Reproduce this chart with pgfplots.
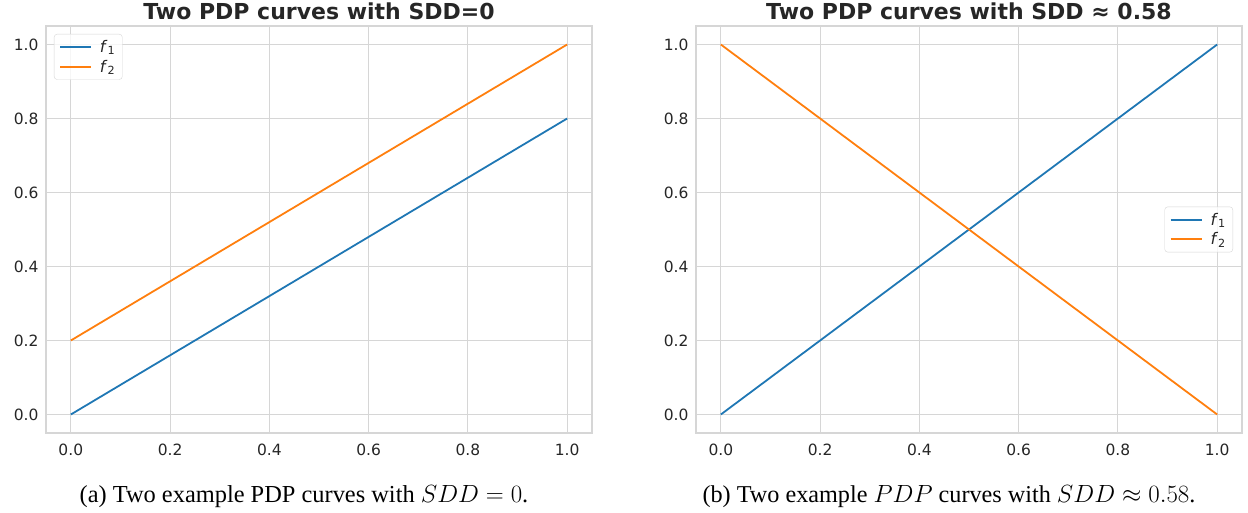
\documentclass[border=0pt]{standalone}
\usepackage[no-math]{fontspec}
\setmainfont{DejaVu Sans}
\newfontfamily\capfont{Liberation Serif}
\usepackage{pgfplots}
\pgfplotsset{compat=1.18}

\definecolor{tabblue}{HTML}{1F77B4}
\definecolor{taborange}{HTML}{FF7F0E}
\definecolor{gridgray}{HTML}{D6D6D6}
\definecolor{txt}{HTML}{262626}

\pgfplotsset{
  sbstyle/.style={
    scale only axis,
    width=546pt, height=407pt,
    xmin=-0.05, xmax=1.05, ymin=-0.05, ymax=1.05,
    xtick={0,0.2,0.4,0.6,0.8,1},
    ytick={0,0.2,0.4,0.6,0.8,1},
    /pgf/number format/fixed,
    /pgf/number format/fixed zerofill,
    /pgf/number format/precision=1,
    /pgf/number format/assume math mode=true,
    grid=major,
    major grid style={gridgray, line width=1pt},
    axis line style={gridgray, line width=1.25pt},
    major tick length=0pt,
    tick style={draw=none},
    tick label style={font=\fontsize{15.5}{18}\selectfont, text=txt},
    yticklabel style={xshift=-4pt},
    xticklabel style={yshift=-7pt},
    title style={font=\bfseries\fontsize{22}{26}\selectfont, text=txt,
                 at={(0.5,1)}, anchor=base},
    legend style={font=\fontsize{16}{19}\selectfont, text=txt,
                  draw=gridgray, fill=white, fill opacity=0.8, text opacity=1,
                  rounded corners=3pt, inner xsep=5pt, inner ysep=4pt,
                  row sep=2pt},
    legend image code/.code={\draw[#1, line width=1.8pt] (0pt,0pt) -- (31pt,0pt);
                             \path (37pt,0pt);},
    legend cell align=left,
    every axis plot/.append style={line width=1.8pt},
  }
}

\begin{document}
\begin{tikzpicture}
\useasboundingbox (-46pt,-79pt) rectangle (1202pt,433pt);

\begin{axis}[sbstyle, name=left, at={(0pt,0pt)}, anchor=south west,
  title={Two PDP curves with SDD=0},
  legend style={at={(0,1)}, anchor=north west, xshift=8pt, yshift=-8pt}]
\addplot[tabblue] coordinates {(0,0) (1,0.8)};
\addlegendentry{\textit{f}\textsubscript{1}}
\addplot[taborange] coordinates {(0,0.2) (1,1.0)};
\addlegendentry{\textit{f}\textsubscript{2}}
\end{axis}

\begin{axis}[sbstyle, name=right, at={(650pt,0pt)}, anchor=south west,
  title={Two PDP curves with SDD ≈ 0.58},
  legend style={at={(1,0.5)}, anchor=east, xshift=-9pt}]
\addplot[tabblue] coordinates {(0,0) (1,1)};
\addlegendentry{\textit{f}\textsubscript{1}}
\addplot[taborange] coordinates {(0,1) (1,0)};
\addlegendentry{\textit{f}\textsubscript{2}}
\end{axis}

\node[anchor=base, text=black, font=\capfont\fontsize{24.4}{28}\selectfont]
  at (258pt,-69pt) {(a) Two example PDP curves with $SDD=0$.};
\node[anchor=base, text=black, font=\capfont\fontsize{24.2}{28}\selectfont]
  at (903pt,-69pt) {(b) Two example $PDP$ curves with $SDD\approx0.58$.};
\end{tikzpicture}
\end{document}
